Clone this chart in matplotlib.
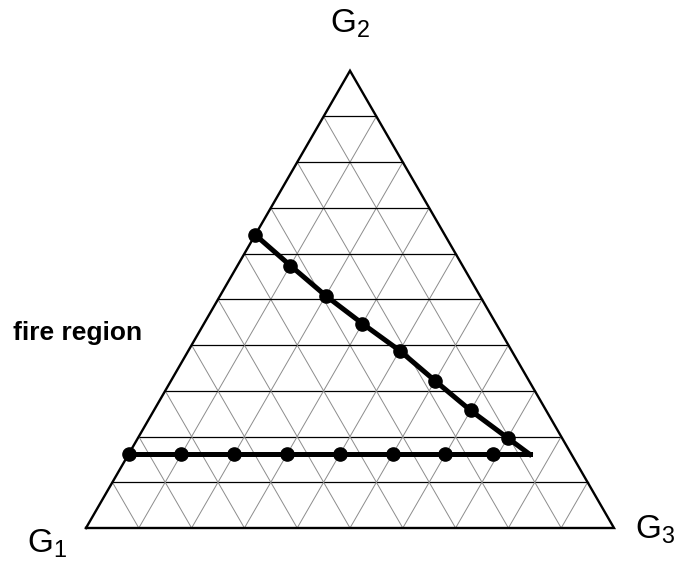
import numpy as np
import matplotlib.pyplot as plt

plt.rcParams['font.family'] = ['Liberation Sans', 'DejaVu Sans']
plt.rcParams['mathtext.fontset'] = 'custom'
plt.rcParams['mathtext.rm'] = 'Liberation Sans'

# ternary fractions (g3, g2) of the two boundary lines
diag_g3 = [0.0, 0.1, 0.2, 0.3, 0.4, 0.5, 0.6, 0.7]
diag_g2 = [0.641, 0.574, 0.508, 0.447, 0.388, 0.322, 0.257, 0.197]
horiz_g3 = [0.0, 0.1, 0.2, 0.3, 0.4, 0.5, 0.6, 0.69]
horiz_g2 = 0.161
corner_g3 = 0.76   # where the two lines meet (no marker)

H = np.sqrt(3) / 2


def to_xy(g3, g2):
    g3 = np.asarray(g3, dtype=float)
    g2 = np.asarray(g2, dtype=float)
    return g3 + g2 / 2, g2 * H


fig = plt.figure(figsize=(6.78, 5.62), dpi=100)
ax = fig.add_axes([0, 0, 1, 1])
ax.set_xlim(-86 / 528, 592 / 528)
ax.set_ylim(-34 / 528, 528 / 528)
ax.axis('off')

# grid
ticks = np.arange(1, 10) / 10
for k in ticks:
    # constant G2 -> horizontal black lines
    x, y = to_xy([0, 1 - k], [k, k])
    ax.plot(x, y, color='black', lw=0.9, zorder=1)
    # constant G3
    x, y = to_xy([k, k], [0, 1 - k])
    ax.plot(x, y, color='#8c8c8c', lw=0.7, zorder=1)
    # constant G1
    x, y = to_xy([1 - k, 0], [0, 1 - k])
    ax.plot(x, y, color='#8c8c8c', lw=0.7, zorder=1)

# outer triangle
x, y = to_xy([0, 1, 0, 0], [0, 0, 1, 0])
ax.plot(x, y, color='black', lw=1.7, zorder=2, solid_joinstyle='miter')

# boundary lines with markers
x, y = to_xy(diag_g3 + [corner_g3], diag_g2 + [horiz_g2])
ax.plot(x, y, color='black', lw=3.6, zorder=3)
x, y = to_xy(horiz_g3 + [corner_g3], [horiz_g2] * (len(horiz_g3) + 1))
ax.plot(x, y, color='black', lw=3.6, zorder=3)

x, y = to_xy(diag_g3, diag_g2)
ax.plot(x, y, 'o', color='black', ms=9.5, zorder=4)
x, y = to_xy(horiz_g3, [horiz_g2] * len(horiz_g3))
ax.plot(x, y, 'o', color='black', ms=9.5, zorder=4)

# vertex labels
ax.text(0.5, 504 / 528, r'$\mathregular{G_2}$', fontsize=24,
        ha='center', va='center')
ax.text(-39 / 528, -16 / 528, r'$\mathregular{G_1}$', fontsize=24,
        ha='center', va='center')
ax.text(569 / 528, -2 / 528, r'$\mathregular{G_3}$', fontsize=24,
        ha='center', va='center')

ax.text(-73 / 528, 195 / 528, 'fire region', fontsize=19,
        fontweight='bold', ha='left', va='center')

fig.savefig('out.png', dpi=100)
